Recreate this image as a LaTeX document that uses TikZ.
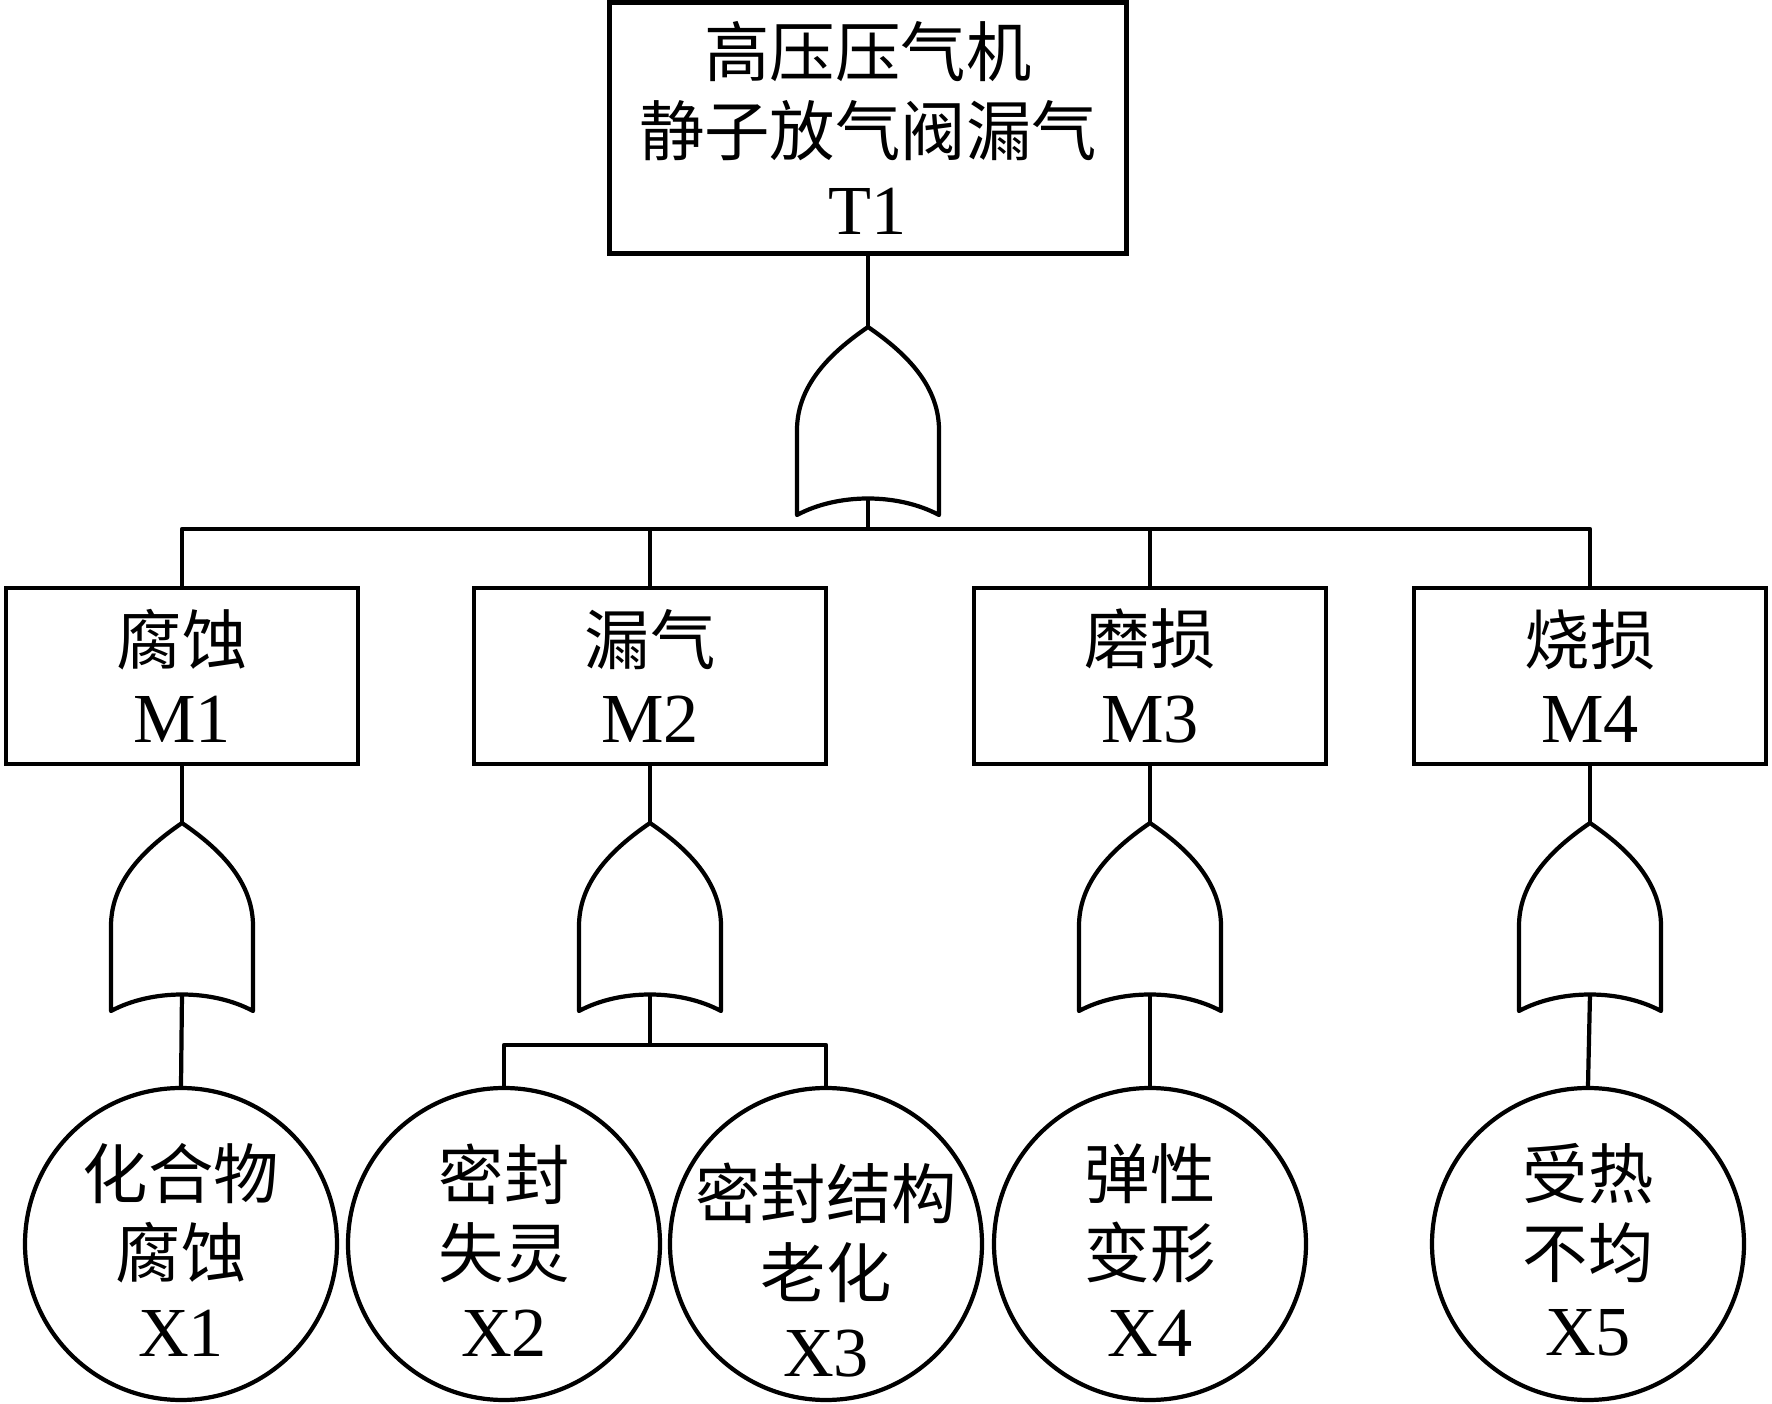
\documentclass[tikz,border=0pt]{standalone}
\usepackage{fontspec}
\setmainfont{Liberation Serif}
\newfontfamily\cjk[Scale=0.93]{Noto Sans CJK SC}
\usetikzlibrary{positioning,calc}
\tikzset{
  line/.style={line width=1.2pt, line join=round},
  event/.style={rectangle, draw, line width=1.2pt, align=center,
    font=\fontsize{20}{22.4}\selectfont, inner sep=2pt},
  basic/.style={circle, draw, line width=1.2pt, minimum size=3.12cm, inner sep=0pt},
  btext/.style={align=center, inner sep=0pt, font=\fontsize{20}{22.4}\selectfont},
  pics/orgate/.style={code={
    \draw[line] (0,0) .. controls (-0.32,-0.22) and (-0.71,-0.55) .. (-0.71,-1.03)
      -- (-0.71,-1.88) .. controls (-0.3,-1.66) and (0.3,-1.66) .. (0.71,-1.88)
      -- (0.71,-1.03) .. controls (0.71,-0.55) and (0.32,-0.22) .. (0,0) -- cycle;
    \coordinate (-top) at (0,0);
    \coordinate (-bot) at (0,-1.71);
  }},
}
\newcommand{\zh}[1]{{\cjk #1}}
\begin{document}
\begin{tikzpicture}
\useasboundingbox (0,0) rectangle (17.72,-14.04);
% top event
\node[event, minimum width=5.17cm, minimum height=2.51cm] (t1) at (8.68,-1.28)
  {\zh{高压压气机}\\\zh{静子放气阀漏气}\\T1};
% intermediate events
\node[event, minimum width=3.52cm, minimum height=1.76cm] (m1) at (1.82,-6.76) {\zh{腐蚀}\\M1};
\node[event, minimum width=3.52cm, minimum height=1.76cm] (m2) at (6.50,-6.76) {\zh{漏气}\\M2};
\node[event, minimum width=3.52cm, minimum height=1.76cm] (m3) at (11.50,-6.76) {\zh{磨损}\\M3};
\node[event, minimum width=3.52cm, minimum height=1.76cm] (m4) at (15.90,-6.76) {\zh{烧损}\\M4};
% basic events
\node[basic, label={[btext, yshift=-0.06cm]center:\zh{化合物}\\\zh{腐蚀}\\X1}] (x1) at (1.81,-12.44) {};
\node[basic, label={[btext, yshift=-0.06cm]center:\zh{密封}\\\zh{失灵}\\X2}] (x2) at (5.04,-12.44) {};
\node[basic, label={[btext, yshift=-0.26cm]center:\zh{密封结构}\\\zh{老化}\\X3}] (x3) at (8.26,-12.44) {};
\node[basic, label={[btext, yshift=-0.06cm]center:\zh{弹性}\\\zh{变形}\\X4}] (x4) at (11.50,-12.44) {};
\node[basic, label={[btext, yshift=-0.06cm]center:\zh{受热}\\\zh{不均}\\X5}] (x5) at (15.88,-12.44) {};
% gates
\pic (g0) at (8.68,-3.27) {orgate};
\pic (g1) at (1.82,-8.23) {orgate};
\pic (g2) at (6.50,-8.23) {orgate};
\pic (g3) at (11.50,-8.23) {orgate};
\pic (g4) at (15.90,-8.23) {orgate};
\coordinate (bus0) at (8.68,-5.29);
\coordinate (bus2) at (6.50,-10.45);
% connectors
\draw[line] (t1.south) -- (g0-top);
\draw[line] (g0-bot) -- (bus0);
\draw[line] (m1.north) -- (m1.north |- bus0) -- (m4.north |- bus0) -- (m4.north);
\draw[line] (m2.north) -- (m2.north |- bus0);
\draw[line] (m3.north) -- (m3.north |- bus0);
\draw[line] (m1.south) -- (g1-top);
\draw[line] (m2.south) -- (g2-top);
\draw[line] (m3.south) -- (g3-top);
\draw[line] (m4.south) -- (g4-top);
\draw[line] (g1-bot) -- (x1.north);
\draw[line] (g2-bot) -- (bus2);
\draw[line] (x2.north) -- (x2.north |- bus2) -- (x3.north |- bus2) -- (x3.north);
\draw[line] (g3-bot) -- (x4.north);
\draw[line] (g4-bot) -- (x5.north);
\end{tikzpicture}
\end{document}
